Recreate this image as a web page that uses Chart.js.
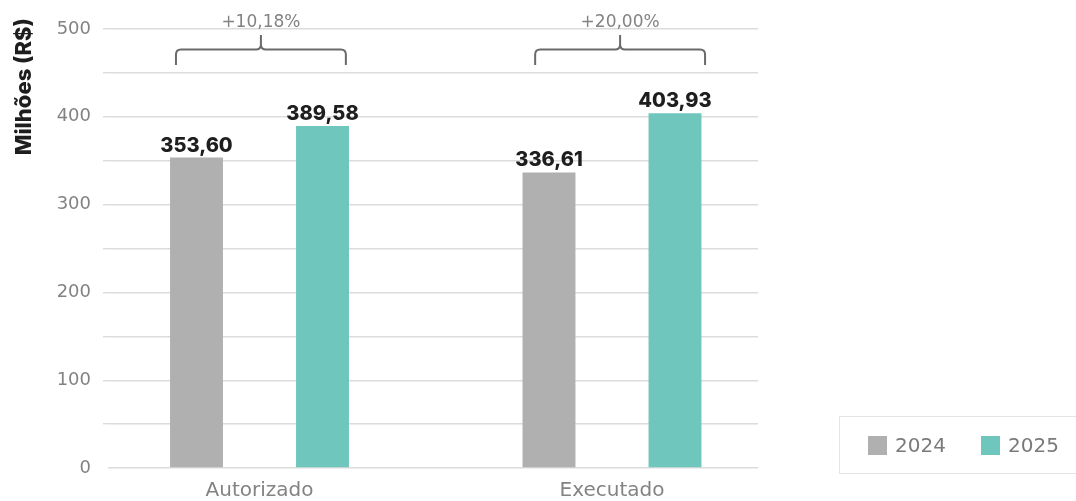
<!DOCTYPE html>
<html>
<head>
<meta charset="utf-8">
<script src="https://cdn.jsdelivr.net/npm/chart.js@4.4.1/dist/chart.umd.min.js"></script>
<style>
  html, body { margin: 0; padding: 0; background: #ffffff; }
  #wrap { position: relative; width: 1076px; height: 501px; overflow: hidden; }
  #chart { position: absolute; left: 0; top: 0; }
  #legend {
    position: absolute; left: 839px; top: 416px; width: 260px; height: 58px;
    border: 1.5px solid #e4e4e4; box-sizing: border-box;
    font-family: "DejaVu Sans", sans-serif; font-weight: 400;
    font-size: 20px; color: #7a7a7a;
  }
  #legend .item { position: absolute; top: 0; height: 56px; display: flex; align-items: center; }
  #legend .sw { width: 19px; height: 19px; margin-right: 8px; }
</style>
</head>
<body>
<div id="wrap">
  <canvas id="chart" width="1076" height="501"></canvas>
  <div id="legend"></div>
</div>
<script>
// ---- data ----
const categories = ['Autorizado', 'Executado'];
const seriesNames = ['2024', '2025'];
const values2024 = [353.60, 336.61];
const values2025 = [389.58, 403.93];
const variationLabels = ['+10,18%', '+20,00%'];
const yTickValues = [0, 100, 200, 300, 400, 500];
const yTitle = 'Milhões (R$)';

// ---- styles ----
const colors = ['#b0b0b0', '#6fc6bd'];
const lightFont = '"DejaVu Sans", sans-serif';
const boldFont = 'Inter, "DejaVu Sans", sans-serif';
const tickColor = '#838383';
const gridColor = '#dcdcdc';

// bracket placement in x-axis units (category index)
const bracketCenters = [0.004, 1.023];
const bracketHalfSpan = 0.241;

const fmt = v => v.toFixed(2).replace('.', ',');

const valueLabelPlugin = {
  id: 'valueLabels',
  afterDatasetsDraw(chart) {
    const ctx = chart.ctx;
    ctx.save();
    ctx.font = '800 20px ' + boldFont;
    ctx.fillStyle = '#1e1e1e';
    ctx.textAlign = 'center';
    ctx.textBaseline = 'bottom';
    chart.data.datasets.forEach((ds, di) => {
      const meta = chart.getDatasetMeta(di);
      meta.data.forEach((bar, i) => {
        ctx.fillText(fmt(ds.data[i].y), bar.x, bar.y - 2);
      });
    });
    ctx.restore();
  }
};

const bracketPlugin = {
  id: 'brackets',
  afterDatasetsDraw(chart) {
    const ctx = chart.ctx;
    const xs = chart.scales.x;
    const top = chart.chartArea.top;
    ctx.save();
    ctx.strokeStyle = '#6a6a6a';
    ctx.lineWidth = 2;
    ctx.lineJoin = 'round';
    const hLine = top + 20.5, endY = top + 36, tipY = top + 6, r = 5;
    bracketCenters.forEach((c, i) => {
      const C = xs.getPixelForValue(c);
      const L = xs.getPixelForValue(c - bracketHalfSpan);
      const R = xs.getPixelForValue(c + bracketHalfSpan);
      ctx.beginPath();
      ctx.moveTo(L, endY);
      ctx.lineTo(L, hLine + r);
      ctx.quadraticCurveTo(L, hLine, L + r, hLine);
      ctx.lineTo(C - r, hLine);
      ctx.quadraticCurveTo(C, hLine, C, hLine - r);
      ctx.lineTo(C, tipY);
      ctx.moveTo(C, hLine - r);
      ctx.quadraticCurveTo(C, hLine, C + r, hLine);
      ctx.lineTo(R - r, hLine);
      ctx.quadraticCurveTo(R, hLine, R, hLine + r);
      ctx.lineTo(R, endY);
      ctx.stroke();
      ctx.font = '400 17px ' + lightFont;
      ctx.fillStyle = tickColor;
      ctx.textAlign = 'center';
      ctx.textBaseline = 'middle';
      ctx.fillText(variationLabels[i], C, top - 6);
    });
    ctx.restore();
  }
};

const yTitlePlugin = {
  id: 'yTitle',
  afterDraw(chart) {
    const ctx = chart.ctx;
    ctx.save();
    ctx.translate(31, 18);
    ctx.rotate(-Math.PI / 2);
    ctx.font = '800 22px ' + boldFont;
    ctx.fillStyle = '#1e1e1e';
    ctx.textAlign = 'right';
    ctx.textBaseline = 'alphabetic';
    ctx.fillText(yTitle, 0, 0);
    ctx.restore();
  }
};

const datasets = [values2024, values2025].map((vals, si) => ({
  label: seriesNames[si],
  data: categories.map((c, i) => ({ x: i, y: vals[i] })),
  backgroundColor: colors[si],
  borderWidth: 0,
  categoryPercentage: 0.715,
  barPercentage: 0.42
}));

const chart = new Chart(document.getElementById('chart'), {
  type: 'bar',
  data: { datasets },
  options: {
    responsive: false,
    animation: false,
    devicePixelRatio: 1,
    layout: { padding: { top: 29, right: 318, left: 0, bottom: 0 } },
    plugins: { legend: { display: false }, tooltip: { enabled: false } },
    scales: {
      x: {
        type: 'linear',
        offset: false,
        min: -0.4298,
        max: 1.4142,
        grid: { display: false, drawTicks: false, offset: false },
        border: { display: false },
        ticks: {
          stepSize: 1,
          includeBounds: false,
          autoSkip: false,
          maxRotation: 0,
          padding: 11,
          color: tickColor,
          font: { family: lightFont, size: 20, weight: 400 },
          callback: v => categories[v] !== undefined ? categories[v] : ''
        },
        afterFit: s => { s.height = 33; }
      },
      y: {
        min: 0,
        max: 500,
        grid: {
          color: gridColor,
          lineWidth: 1.4,
          tickLength: 5,
          tickColor: c => (c.tick && c.tick.value === 0) ? 'rgba(0,0,0,0)' : gridColor
        },
        border: { display: false },
        ticks: {
          stepSize: 50,
          padding: 12,
          color: tickColor,
          font: { family: lightFont, size: 18, weight: 400 },
          callback: v => yTickValues.includes(v) ? String(v) : ''
        },
        afterFit: s => { s.width = 108; }
      }
    }
  },
  plugins: [valueLabelPlugin, bracketPlugin, yTitlePlugin]
});

// legend built from the chart's own legend items
const legendEl = document.getElementById('legend');
const items = Chart.defaults.plugins.legend.labels.generateLabels(chart);
const itemLefts = [28, 141];
items.forEach((it, k) => {
  const d = document.createElement('div');
  d.className = 'item';
  d.style.left = itemLefts[k] + 'px';
  const sw = document.createElement('span');
  sw.className = 'sw';
  sw.style.background = it.fillStyle;
  const t = document.createElement('span');
  t.textContent = it.text;
  d.appendChild(sw); d.appendChild(t);
  legendEl.appendChild(d);
});
</script>
</body>
</html>
